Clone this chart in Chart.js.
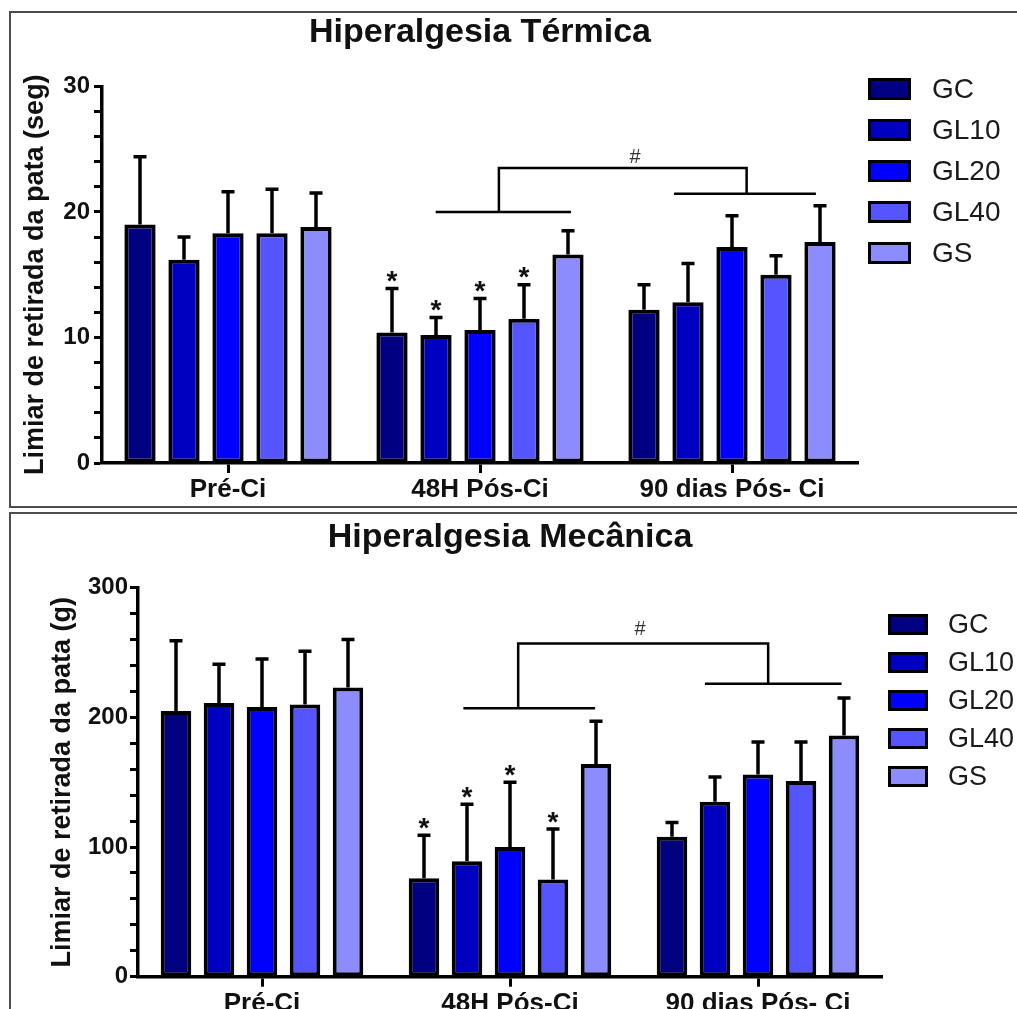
<!DOCTYPE html>
<html lang="pt">
<head>
<meta charset="utf-8">
<title>Hiperalgesia Térmica / Mecânica</title>
<script src="https://cdn.jsdelivr.net/npm/chart.js@4.4.1/dist/chart.umd.min.js"></script>
<style>
  html, body { margin:0; padding:0; background:#fff; overflow:hidden; }
  body { width:1017px; height:1009px; position:relative; font-family: Arial, "Liberation Sans", sans-serif; }
  .painel { position:absolute; left:9px; width:1030px; border:2px solid #4d4d4d; box-sizing:border-box; }
  #p1 { top:11px; height:497px; }
  #p2 { top:512px; height:540px; }
  canvas { position:absolute; left:0; }
  #c1 { top:0; }
  #c2 { top:510px; }
  .legenda { position:absolute; margin:0; padding:0; list-style:none; color:#1a1a1a; }
  .legenda li { display:flex; align-items:center; }
  .legenda .cx { box-sizing:border-box; border:3px solid #000; display:inline-block; }
  #leg1 { left:868px; top:68px; font-size:28px; }
  #leg1 li { height:41px; }
  #leg1 .cx { width:43px; height:22px; margin-right:21px; }
  #leg2 { left:888px; top:605px; font-size:27px; }
  #leg2 li { height:38.2px; }
  #leg2 .cx { width:40px; height:21px; margin-right:20px; }
</style>
</head>
<body>
<div class="painel" id="p1"></div>
<div class="painel" id="p2"></div>
<canvas id="c1" width="1017" height="507"></canvas>
<canvas id="c2" width="1017" height="520"></canvas>
<ul class="legenda" id="leg1"></ul>
<ul class="legenda" id="leg2"></ul>

<script>
/* ── grupos / tempos ── */
const GRUPOS = ['GC', 'GL10', 'GL20', 'GL40', 'GS'];
const CORES  = ['#000080', '#0000c0', '#0000ff', '#5555ff', '#8c8cff'];
const TEMPOS = ['Pré-Ci', '48H Pós-Ci', '90 dias Pós- Ci'];

/* ── Hiperalgesia Térmica (seg): média e erro por grupo ── */
const termMedias = [
  [19.0, 10.4, 12.2],   // GC
  [16.2, 10.2, 12.8],   // GL10
  [18.3, 10.6, 17.2],   // GL20
  [18.3, 11.5, 15.0],   // GL40
  [18.8, 16.6, 17.6]    // GS
];
const termErros = [
  [5.4, 3.5, 2.0],
  [1.8, 1.4, 3.1],
  [3.3, 2.5, 2.5],
  [3.5, 2.7, 1.5],
  [2.7, 1.9, 2.9]
];
const termRotulosY = [0, 10, 20, 30];

/* ── Hiperalgesia Mecânica (g) ── */
const mecMedias = [
  [205, 76, 108],
  [211, 89, 135],
  [208, 100, 156],
  [210, 75, 151],
  [223, 164, 186]
];
const mecErros = [
  [54, 33, 11],
  [30, 44, 19],
  [37, 50, 25],
  [41, 39, 30],
  [37, 33, 29]
];
const mecRotulosY = [0, 100, 200, 300];

/* asteriscos: [grupo, tempo] */
const estrelas = [[0, 1], [1, 1], [2, 1], [3, 1]];

/* chaves (#) em unidades do gráfico: [índice do tempo, valor] */
const termChaves = [
  [[0.824, 20.0], [1.361, 20.0]],
  [[1.075, 20.0], [1.075, 23.5], [2.058, 23.5], [2.058, 21.45]],
  [[1.77, 21.45], [2.333, 21.45]]
];
const termHash = [1.615, 24.3];
const mecChaves = [
  [[0.812, 207], [1.343, 207]],
  [[1.033, 207], [1.033, 257], [2.041, 257], [2.041, 226]],
  [[1.786, 226], [2.337, 226]]
];
const mecHash = [1.524, 268];

const FONTE = 'Arial, "Liberation Sans", sans-serif';
Chart.defaults.font.family = FONTE;
Chart.defaults.color = '#111';

/* ── barras de erro, asteriscos e chaves ── */
const anotacoes = {
  id: 'anotacoes',
  afterDatasetsDraw(chart, args, o) {
    const { ctx, scales: { x, y } } = chart;
    const topoErro = (i, j) => y.getPixelForValue(chart.data.datasets[i].data[j] + o.erros[i][j]);

    ctx.save();
    ctx.strokeStyle = '#000';
    ctx.lineWidth = 3.5;
    chart.data.datasets.forEach((ds, i) => {
      chart.getDatasetMeta(i).data.forEach((bar, j) => {
        const yt = topoErro(i, j);
        ctx.beginPath();
        ctx.moveTo(bar.x, bar.y);
        ctx.lineTo(bar.x, yt);
        ctx.moveTo(bar.x - 6.5, yt);
        ctx.lineTo(bar.x + 6.5, yt);
        ctx.stroke();
      });
    });

    ctx.fillStyle = '#111';
    ctx.textAlign = 'center';
    ctx.textBaseline = 'middle';
    ctx.font = 'bold 28px ' + FONTE;
    o.estrelas.forEach(([i, j]) => {
      const bar = chart.getDatasetMeta(i).data[j];
      ctx.fillText('*', bar.x, topoErro(i, j) - 6);
    });

    ctx.lineWidth = 2.5;
    o.chaves.forEach(linha => {
      ctx.beginPath();
      linha.forEach(([a, b], k) => {
        const px = x.getPixelForValue(a), py = y.getPixelForValue(b);
        k ? ctx.lineTo(px, py) : ctx.moveTo(px, py);
      });
      ctx.stroke();
    });

    ctx.fillStyle = '#333';
    ctx.font = '20px ' + FONTE;
    ctx.fillText('#', x.getPixelForValue(o.hash[0]), y.getPixelForValue(o.hash[1]));
    ctx.restore();
  }
};

/* ── legenda em HTML ── */
const legendaHtml = {
  id: 'legendaHtml',
  afterUpdate(chart, args, o) {
    const ul = document.getElementById(o.alvo);
    ul.innerHTML = '';
    chart.options.plugins.legend.labels.generateLabels(chart).forEach(item => {
      const li = document.createElement('li');
      const cx = document.createElement('span');
      cx.className = 'cx';
      cx.style.background = item.fillStyle;
      li.appendChild(cx);
      li.appendChild(document.createTextNode(item.text));
      ul.appendChild(li);
    });
  }
};

function montar(canvasId, c) {
  const datasets = GRUPOS.map((g, i) => ({
    label: g,
    data: c.medias[i],
    backgroundColor: CORES[i],
    borderColor: '#000',
    borderWidth: 4,
    borderSkipped: false,
    barPercentage: 0.71,
    categoryPercentage: c.catPct
  }));

  return new Chart(document.getElementById(canvasId), {
    type: 'bar',
    data: { labels: TEMPOS, datasets },
    options: {
      responsive: false,
      animation: false,
      layout: { padding: { left: 9, right: c.padDir, top: 4, bottom: 4 } },
      plugins: {
        legend: { display: false },
        tooltip: { enabled: false },
        title: {
          display: true, text: c.titulo, fullSize: false, color: '#111',
          font: { size: 34, weight: 'bold' },
          padding: { top: c.padTitulo[0], bottom: c.padTitulo[1] }
        },
        legendaHtml: { alvo: c.legenda },
        anotacoes: { erros: c.erros, estrelas, chaves: c.chaves, hash: c.hash }
      },
      scales: {
        x: {
          afterFit: s => { s.height = c.alturaX; },
          border: { color: '#000', width: 3.5 },
          grid: { offset: false, drawOnChartArea: false, tickLength: 10, tickColor: '#000', tickWidth: 3 },
          ticks: { padding: 1.5, color: '#111', font: { size: 26, weight: 'bold' }, maxRotation: 0, autoSkip: false }
        },
        y: {
          min: 0, max: c.max,
          afterFit: s => { s.width = c.larguraY; },
          border: { color: '#000', width: 3.5 },
          grid: { drawOnChartArea: false, tickLength: 8, tickColor: '#000', tickWidth: 3 },
          ticks: {
            stepSize: c.passo, autoSkip: false, padding: c.padTickY, color: '#111',
            font: { size: 24, weight: 'bold' },
            callback: v => c.rotulos.includes(v) ? v : ''
          },
          title: {
            display: true, text: c.tituloY, color: '#111',
            font: { size: 27, weight: 'bold' },
            padding: { top: c.padTituloY, bottom: 0 }
          }
        }
      }
    },
    plugins: [anotacoes, legendaHtml]
  });
}

montar('c1', {
  titulo: 'Hiperalgesia Térmica',
  tituloY: 'Limiar de retirada da pata (seg)',
  medias: termMedias, erros: termErros, rotulos: termRotulosY,
  chaves: termChaves, hash: termHash, legenda: 'leg1',
  max: 30, passo: 2, catPct: 0.873,
  padDir: 159, padTitulo: [8, 33.6], alturaX: 40,
  larguraY: 93, padTickY: 4, padTituloY: 10.8
});

montar('c2', {
  titulo: 'Hiperalgesia Mecânica',
  tituloY: 'Limiar de retirada da pata (g)',
  medias: mecMedias, erros: mecErros, rotulos: mecRotulosY,
  chaves: mecChaves, hash: mecHash, legenda: 'leg2',
  max: 300, passo: 20, catPct: 0.867,
  padDir: 135, padTitulo: [3, 29.9], alturaX: 49.3,
  larguraY: 129, padTickY: 2, padTituloY: 37.8
});
</script>
</body>
</html>
